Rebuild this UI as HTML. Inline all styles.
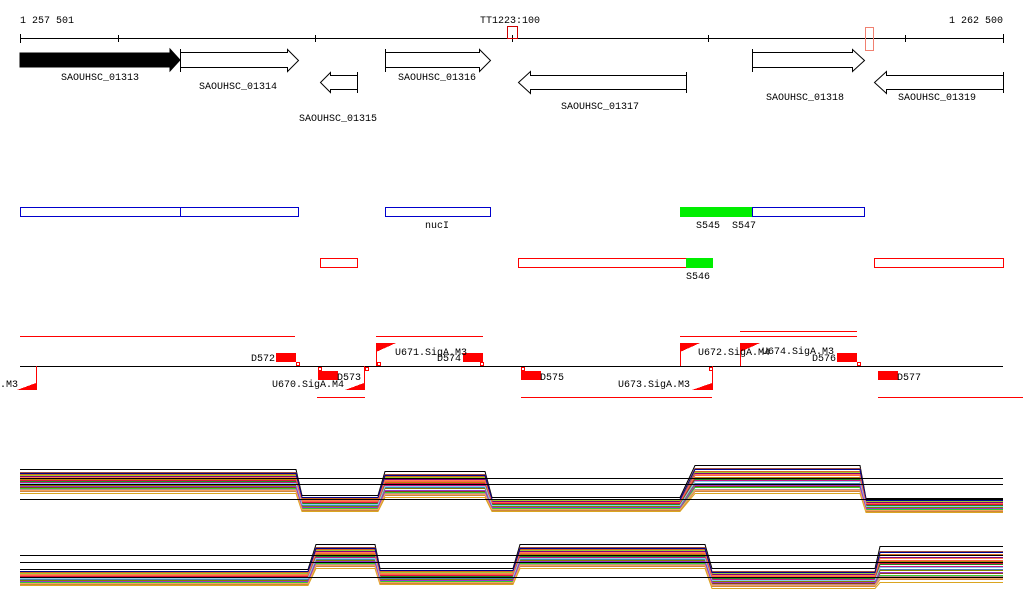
<!DOCTYPE html>
<html><head><meta charset="utf-8"><style>
body{margin:0;background:#fff}
svg{display:block;font-family:"Liberation Mono","DejaVu Sans Mono",monospace;font-size:10px}
</style></head><body>
<svg id="c" width="1024" height="611" viewBox="0 0 1024 611">
<g stroke="#000" stroke-width="1" shape-rendering="crispEdges">
<line x1="20" y1="38.5" x2="1003" y2="38.5"/>
<line x1="20.5" y1="34" x2="20.5" y2="43"/><line x1="118.5" y1="35" x2="118.5" y2="42"/><line x1="315.5" y1="35" x2="315.5" y2="42"/><line x1="512.5" y1="35" x2="512.5" y2="42"/><line x1="708.5" y1="35" x2="708.5" y2="42"/><line x1="905.5" y1="35" x2="905.5" y2="42"/><line x1="1003.5" y1="34" x2="1003.5" y2="43"/>
</g>
<text x="20" y="23">1 257 501</text>
<text x="1003" y="23" text-anchor="end">1 262 500</text>
<text x="480" y="23">TT1223:100</text>
<rect x="507.5" y="26.5" width="10" height="12" fill="none" stroke="#c00"/>
<rect x="865.5" y="27.5" width="8" height="23" fill="none" stroke="#f08070"/>

<g stroke="#000" fill="#fff">
<path d="M20,53H170V49L180,60L170,71V67H20Z" fill="#000"/>
<path d="M180.5,52.5H287.5V49.5L298.5,60.5L287.5,71.5V67.5H180.5Z M180.5,49V72"/>
<path d="M357.5,75.5H330.5V72.5L320.5,82.5L330.5,92.5V89.5H357.5Z M357.5,72V93"/>
<path d="M385.5,52.5H479.5V49.5L490.5,60.5L479.5,71.5V67.5H385.5Z M385.5,49V72"/>
<path d="M686.5,75.5H530.5V71.5L518.5,82.5L530.5,93.5V89.5H686.5Z M686.5,72V93"/>
<path d="M752.5,52.5H852.5V49.5L864.5,60.5L852.5,71.5V67.5H752.5Z M752.5,49V72"/>
<path d="M1003.5,75.5H886.5V71.5L874.5,82.5L886.5,93.5V89.5H1003.5Z M1003.5,72V93"/>
</g>
<g text-anchor="middle">
<text x="100" y="80">SAOUHSC_01313</text><text x="238" y="89">SAOUHSC_01314</text><text x="338" y="121">SAOUHSC_01315</text>
<text x="437" y="80">SAOUHSC_01316</text><text x="600" y="109">SAOUHSC_01317</text><text x="805" y="100">SAOUHSC_01318</text><text x="937" y="100">SAOUHSC_01319</text>
</g>

<g fill="none" stroke="#00c">
<rect x="20.5" y="207.5" width="160" height="9"/><rect x="180.5" y="207.5" width="118" height="9"/><rect x="385.5" y="207.5" width="105" height="9"/><rect x="752.5" y="207.5" width="112" height="9"/>
<rect x="680" y="207" width="72" height="10" fill="#0e0" stroke="none"/>
</g>
<text x="437" y="228" text-anchor="middle">nucI</text>
<text x="708" y="228" text-anchor="middle">S545</text>
<text x="744" y="228" text-anchor="middle">S547</text>
<g fill="none" stroke="#f00">
<rect x="320.5" y="258.5" width="37" height="9"/><rect x="518.5" y="258.5" width="168" height="9"/><rect x="874.5" y="258.5" width="129" height="9"/>
<rect x="686" y="258" width="27" height="10" fill="#0e0" stroke="none"/>
</g>
<text x="698" y="279" text-anchor="middle">S546</text>

<g shape-rendering="crispEdges">
<line x1="20" y1="366.5" x2="1003" y2="366.5" stroke="#000"/>
<g stroke="#f00">
<line x1="20" y1="336.5" x2="295" y2="336.5"/><line x1="376" y1="336.5" x2="483" y2="336.5"/><line x1="680" y1="336.5" x2="857" y2="336.5"/><line x1="740" y1="331.5" x2="857" y2="331.5"/>
<line x1="317" y1="397.5" x2="365" y2="397.5"/><line x1="521" y1="397.5" x2="712" y2="397.5"/><line x1="878" y1="397.5" x2="1023" y2="397.5"/>
</g>
<g fill="#f00">
<rect x="276" y="353" width="20" height="9"/><rect x="318" y="371" width="20" height="9"/><rect x="463" y="353" width="20" height="9"/><rect x="521" y="371" width="20" height="9"/><rect x="837" y="353" width="20" height="9"/><rect x="878" y="371" width="20" height="9"/>
<path d="M17,390L36,383V390Z"/><path d="M345,390L364,383V390Z"/><path d="M376,343L396,343L376,352Z"/><path d="M692,390L712,383V390Z"/><path d="M680,343L700,343L680,352Z"/><path d="M740,343L760,343L740,352Z"/>
</g>
<g stroke="#f00" fill="#fff">
<line x1="36.5" y1="366" x2="36.5" y2="390"/><line x1="364.5" y1="366" x2="364.5" y2="390"/><line x1="376.5" y1="343" x2="376.5" y2="366"/><line x1="712.5" y1="366" x2="712.5" y2="390"/><line x1="680.5" y1="343" x2="680.5" y2="366"/><line x1="740.5" y1="343" x2="740.5" y2="366"/>
<rect x="296.5" y="362.5" width="3" height="3"/><rect x="318.5" y="367.5" width="3" height="3"/><rect x="365.5" y="367.5" width="3" height="3"/><rect x="377.5" y="362.5" width="3" height="3"/><rect x="480.5" y="362.5" width="3" height="3"/><rect x="521.5" y="367.5" width="3" height="3"/><rect x="709.5" y="367.5" width="3" height="3"/><rect x="857.5" y="362.5" width="3" height="3"/>
</g>
</g>
<g font-size="10">
<text x="0" y="387">.M3</text><text x="251" y="361">D572</text><text x="272" y="387">U670.SigA.M4</text><text x="337" y="380">D573</text>
<text x="395" y="355">U671.SigA.M3</text><text x="437" y="361">D574</text><text x="540" y="380">D575</text><text x="618" y="387">U673.SigA.M3</text>
<text x="698" y="355">U672.SigA.M4</text><text x="762" y="354">U674.SigA.M3</text><text x="812" y="361">D576</text><text x="897" y="380">D577</text>
</g>
<g id="expr"></g>
</svg>
<script>
// track profiles: segment breakpoints (x) and signal level (y) per segment
const t1Starts=[20,302,385,492,695,866];
const t1Ends=[296,378,485,680,860,1003];
const t1Levels=[481,503,484,504,479,505];
const t1Spread=[1.0,0.7,1.1,0.6,1.2,0.6];
const t1Ref=[478,484,499];
const t2Starts=[20,316,380,520,712,880];
const t2Ends=[308,375,513,705,875,1003];
const t2Levels=[577,556,576,556,578,564];
const t2Spread=[0.7,1.0,0.7,1.0,0.8,1.5];
const t2Ref=[555,562,577];
const seriesOffsets=[-12,-9,-7,-6,-5,-4,-3,-2,-1,0,1,2,3,4,5,6,7,8,10,12,-8,-3,2,5,9];
const seriesColors=["#000","#a05040","#d2691e","#9acd32","#800080","#ff7f50","#6495ed","#b8860b","#dc143c","#228b22","#c71585","#ff8c00","#4682b4","#808000","#ee82ee","#8b4513","#32cd32","#bc8f8f","#cd853f","#daa520","#00008b","#ff6347","#87ceeb","#9932cc","#f4a460"];
const NS="http://www.w3.org/2000/svg";
const g=document.getElementById('expr');
function pathFor(starts,ends,levels,spread,off){
  let d="";
  for(let i=0;i<starts.length;i++){
    const y=Math.round(levels[i]+off*spread[i])+0.5;
    d+=(i?"L":"M")+starts[i]+","+y+"L"+ends[i]+","+y;
  }
  return d;
}
function drawTrack(starts,ends,levels,spread,refs){
  seriesOffsets.forEach((o,k)=>{
    const p=document.createElementNS(NS,'path');
    p.setAttribute('d',pathFor(starts,ends,levels,spread,o));
    p.setAttribute('fill','none');p.setAttribute('stroke',seriesColors[k%seriesColors.length]);
    p.setAttribute('stroke-width','1');
    
    
    g.appendChild(p);
  });
  refs.forEach(y=>{
    const l=document.createElementNS(NS,'line');
    l.setAttribute('x1',20);l.setAttribute('x2',1003);l.setAttribute('y1',y+0.5);l.setAttribute('y2',y+0.5);
    l.setAttribute('stroke','#000');
    
    
    g.appendChild(l);
  });
}
drawTrack(t1Starts,t1Ends,t1Levels,t1Spread,t1Ref);
drawTrack(t2Starts,t2Ends,t2Levels,t2Spread,t2Ref);
</script>
</body></html>
